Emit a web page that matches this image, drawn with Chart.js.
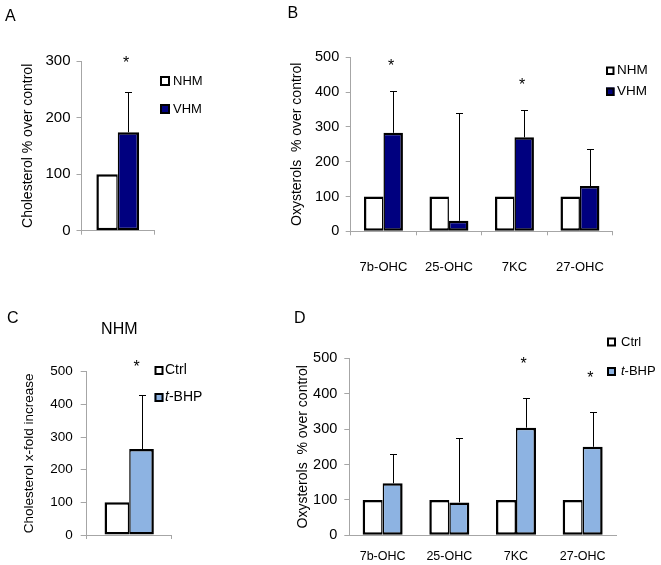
<!DOCTYPE html>
<html><head><meta charset="utf-8">
<script src="https://cdn.jsdelivr.net/npm/chart.js@4.4.0/dist/chart.umd.min.js"></script>
<style>
html,body{margin:0;padding:0;background:#fff;}
#wrap{position:relative;width:661px;height:565px;overflow:hidden;font-family:'Liberation Sans',Arial,sans-serif;}
canvas{position:absolute;left:0;top:0;}
.lbl{position:absolute;font-size:16px;line-height:16px;color:#000;white-space:nowrap;}
</style></head>
<body><div id="wrap">
<canvas id="cA" width="661" height="565"></canvas>
<canvas id="cB" width="661" height="565"></canvas>
<canvas id="cC" width="661" height="565"></canvas>
<canvas id="cD" width="661" height="565"></canvas>
<div class="lbl" style="left:5px;top:8px">A</div>
<div class="lbl" style="left:287.5px;top:4.6px">B</div>
<div class="lbl" style="left:7px;top:309.6px">C</div>
<div class="lbl" style="left:294px;top:309.6px">D</div>
<div class="lbl" style="left:119.3px;top:321.2px;transform:translateX(-50%)">NHM</div>
</div>
<script>
// ---------- DATA ----------
const categoriesA = ['Cholesterol'];
const nhmA = [100];
const vhmA = [174];
const vhmErrA = [71];
const sigA = [true];

const categoriesB = ['7b-OHC', '25-OHC', '7KC', '27-OHC'];
const nhmB = [100, 100, 100, 100];
const vhmB = [283, 30, 270, 130];
const vhmErrB = [120, 310, 79, 107];
const sigB = [true, false, true, false];

const categoriesC = ['Cholesterol'];
const ctrlC = [100];
const tbhpC = [263];
const tbhpErrC = [167];
const sigC = [true];

const categoriesD = ['7b-OHC', '25-OHC', '7KC', '27-OHC'];
const ctrlD = [100, 100, 100, 100];
const tbhpD = [147, 93, 304, 250];
const tbhpErrD = [83, 181, 85, 97];
const sigD = [false, false, true, true];

const ticksA = [0, 100, 200, 300];
const ticks500 = [0, 100, 200, 300, 400, 500];

// ---------- STYLE ----------
const FONT = "'Liberation Sans', Arial, sans-serif";
Chart.defaults.font.family = FONT;
Chart.defaults.color = '#000';
const NAVY = '#00007f';
const LIGHTBLUE = '#8db3e2';
const AXIS = '#a6a6a6';

const errorBars = {
  id: 'errorBars',
  afterDatasetsDraw(chart, args, o) {
    const ctx = chart.ctx;
    const y = chart.scales.y;
    chart.data.datasets.forEach((ds, di) => {
      if (!ds.errors) return;
      const meta = chart.getDatasetMeta(di);
      meta.data.forEach((bar, i) => {
        const e = ds.errors[i];
        if (e == null) return;
        const v = ds.data[i];
        const x = Math.round(bar.x) + 0.5;
        const yTop = Math.round(y.getPixelForValue(v + e)) + 0.5;
        const yBar = y.getPixelForValue(v);
        ctx.save();
        ctx.strokeStyle = '#000';
        ctx.lineWidth = 1;
        ctx.beginPath();
        ctx.moveTo(x, yBar);
        ctx.lineTo(x, yTop);
        ctx.moveTo(x - o.cap, yTop);
        ctx.lineTo(x + o.cap, yTop);
        ctx.stroke();
        if (ds.stars && ds.stars[i]) {
          ctx.fillStyle = '#000';
          ctx.font = o.starSize + 'px ' + FONT;
          ctx.textAlign = 'center';
          ctx.textBaseline = 'alphabetic';
          const cy = yTop - o.starOffset;
          ctx.fillText('*', bar.x + o.starDx, cy + 0.57 * o.starSize);
        }
        ctx.restore();
      });
    });
  }
};

const sideLegend = {
  id: 'sideLegend',
  afterDraw(chart, args, o) {
    const ctx = chart.ctx;
    chart.data.datasets.forEach((ds, i) => {
      const top = o.top + i * o.spacing;
      const lw = 2;
      ctx.save();
      ctx.fillStyle = ds.backgroundColor;
      ctx.fillRect(o.left, top, o.size, o.size);
      ctx.strokeStyle = '#000';
      ctx.lineWidth = lw;
      ctx.strokeRect(o.left + lw / 2, top + lw / 2, o.size - lw, o.size - lw);
      ctx.fillStyle = '#000';
      ctx.textBaseline = 'middle';
      ctx.textAlign = 'left';
      const cy = top + o.size / 2;
      let x = o.textX;
      let label = ds.label;
      if (ds.italicPrefix && label.startsWith(ds.italicPrefix)) {
        ctx.font = 'italic ' + o.fontSize + 'px ' + FONT;
        ctx.fillText(ds.italicPrefix, x, cy);
        x += ctx.measureText(ds.italicPrefix).width;
        label = label.slice(ds.italicPrefix.length);
      }
      ctx.font = o.fontSize + 'px ' + FONT;
      ctx.fillText(label, x, cy);
      ctx.restore();
    });
  }
};

function bw(first) {
  return first ? {left: 2.5, right: 1.5, top: 2.5, bottom: 2.5}
               : {left: 1.5, right: 2.5, top: 2.5, bottom: 2.5};
}

function makeChart(id, cfg) {
  const datasets = cfg.series.map((s, k) => ({
    label: s.label,
    data: s.data,
    errors: s.errors || null,
    stars: s.stars || null,
    italicPrefix: s.italicPrefix || null,
    backgroundColor: s.color,
    borderColor: '#000',
    borderWidth: bw(k === 0),
    borderSkipped: false,
    categoryPercentage: cfg.catPct,
    barPercentage: 1.0
  }));
  return new Chart(document.getElementById(id), {
    type: 'bar',
    data: { labels: cfg.labels, datasets },
    plugins: [errorBars, sideLegend],
    options: {
      responsive: false,
      animation: false,
      devicePixelRatio: 1,
      layout: { padding: cfg.padding },
      plugins: {
        legend: { display: false },
        tooltip: { enabled: false },
        errorBars: { cap: 3.5, starSize: 16, starOffset: cfg.starOffset, starDx: cfg.starDx },
        sideLegend: cfg.legend
      },
      scales: {
        x: {
          type: 'category',
          offset: true,
          grid: { display: true, drawOnChartArea: false, drawTicks: cfg.xTicks, tickLength: 4, offset: true, color: AXIS },
          border: { display: true, color: AXIS, width: 1 },
          ticks: { display: cfg.xLabels, padding: cfg.xPad, font: { size: cfg.xFont }, color: '#000', maxRotation: 0, autoSkip: false },
          afterFit: s => { s.height = cfg.xHeight; }
        },
        y: {
          min: 0, max: cfg.max,
          afterBuildTicks: s => { s.ticks = cfg.ticks.map(v => ({ value: v })); },
          grid: { display: true, drawOnChartArea: false, drawTicks: true, tickLength: cfg.yTickLen, color: AXIS },
          border: { display: true, color: AXIS, width: 1 },
          ticks: { padding: cfg.yPad, font: { size: cfg.yFont }, color: '#000' },
          title: { display: true, text: cfg.yTitle, font: { size: cfg.yTitleFont }, padding: { top: 0, bottom: 0 }, color: '#000' },
          afterFit: s => { s.width = cfg.yWidth; }
        }
      }
    }
  });
}

// Panel A
makeChart('cA', {
  labels: categoriesA,
  series: [
    { label: 'NHM', data: nhmA, color: '#ffffff' },
    { label: 'VHM', data: vhmA, errors: vhmErrA, stars: sigA, color: NAVY }
  ],
  catPct: 0.59, max: 300, ticks: ticksA,
  yTitle: 'Cholesterol % over control', yTitleFont: 14, yFont: 15, yTickLen: 5, yPad: 6, yWidth: 61.9,
  xTicks: true, xLabels: false, xPad: 0, xFont: 13, xHeight: 10,
  padding: { left: 19.6, top: 61, right: 661 - 154, bottom: 565 - 230.7 - 10 },
  starOffset: 33.5, starDx: -2.3,
  legend: { left: 160, top: 76, size: 10, spacing: 28, textX: 173, fontSize: 13 }
});

// Panel B
makeChart('cB', {
  labels: categoriesB,
  series: [
    { label: 'NHM', data: nhmB, color: '#ffffff' },
    { label: 'VHM', data: vhmB, errors: vhmErrB, stars: sigB, color: NAVY }
  ],
  catPct: 0.595, max: 500, ticks: ticks500,
  yTitle: 'Oxysterols  % over control', yTitleFont: 14, yFont: 14.5, yTickLen: 5, yPad: 6.5, yWidth: 62.4,
  xTicks: true, xLabels: true, xPad: 24, xFont: 13, xHeight: 45,
  padding: { left: 288.3, top: 57.3, right: 661 - 612.7, bottom: 565 - 231.3 - 45 },
  starOffset: 29.5, starDx: -2,
  legend: { left: 606, top: 66.5, size: 8.5, spacing: 21, textX: 617, fontSize: 13.5 }
});

// Panel C
makeChart('cC', {
  labels: categoriesC,
  series: [
    { label: 'Ctrl', data: ctrlC, color: '#ffffff' },
    { label: 't-BHP', data: tbhpC, errors: tbhpErrC, stars: sigC, italicPrefix: 't', color: LIGHTBLUE }
  ],
  catPct: 0.58, max: 500, ticks: ticks500,
  yTitle: 'Cholesterol x-fold increase', yTitleFont: 13.5, yFont: 13.5, yTickLen: 6, yPad: 8, yWidth: 65.5,
  xTicks: true, xLabels: false, xPad: 0, xFont: 13, xHeight: 10,
  padding: { left: 21.2, top: 371.7, right: 661 - 171.7, bottom: 565 - 535 - 10 },
  starOffset: 32.5, starDx: -5,
  legend: { left: 154.5, top: 366, size: 9, spacing: 27, textX: 165, fontSize: 14 }
});

// Panel D
makeChart('cD', {
  labels: categoriesD,
  series: [
    { label: 'Ctrl', data: ctrlD, color: '#ffffff' },
    { label: 't-BHP', data: tbhpD, errors: tbhpErrD, stars: sigD, italicPrefix: 't', color: LIGHTBLUE }
  ],
  catPct: 0.6, max: 500, ticks: ticks500,
  yTitle: 'Oxysterols  % over control', yTitleFont: 14, yFont: 14.5, yTickLen: 5, yPad: 7, yWidth: 54.4,
  xTicks: false, xLabels: true, xPad: 13.9, xFont: 12.5, xHeight: 29,
  padding: { left: 294.9, top: 358.3, right: 661 - 616, bottom: 565 - 535.3 - 29 },
  starOffset: 39, starDx: -2.3,
  legend: { left: 607, top: 337.5, size: 9, spacing: 29.5, textX: 621, fontSize: 13 }
});
</script>
</body></html>
